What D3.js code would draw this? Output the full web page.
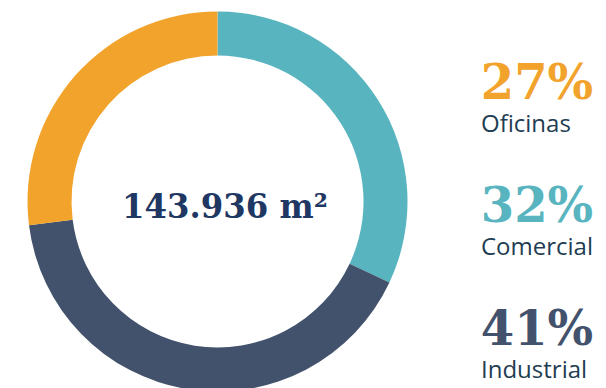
<!DOCTYPE html>
<html><head><meta charset="utf-8">
<script src="https://cdn.jsdelivr.net/npm/d3@7"></script>
<style>html,body{margin:0;padding:0;background:#fff;}svg{display:block;}</style>
</head><body>
<svg id="chart" width="606" height="388"></svg>
<script>
const categories = ["Comercial", "Industrial", "Oficinas"];
const values = [32, 41, 27];
const colors = ["#58b5bf", "#43526c", "#f2a32c"];
const totalLabel = "143.936 m²";
const legendOrder = ["Oficinas", "Comercial", "Industrial"];

const svg = d3.select("#chart");
const cx = 217.5, cy = 201.5, rOuter = 190, rInner = 146;

const pie = d3.pie().sort(null).value(d => d.v);
const arcs = pie(categories.map((c, i) => ({c, v: values[i], col: colors[i]})));
const arc = d3.arc().innerRadius(rInner).outerRadius(rOuter);

const g = svg.append("g").attr("transform", `translate(${cx},${cy})`);
g.selectAll("path").data(arcs).join("path")
  .attr("d", arc).attr("fill", d => d.data.col);

svg.append("text").attr("x", 225).attr("y", 218)
  .attr("text-anchor", "middle")
  .attr("font-family", "DejaVu Serif").attr("font-weight", "bold")
  .attr("font-size", 33).attr("fill", "#1e3763")
  .attr("textLength", 206).attr("lengthAdjust", "spacingAndGlyphs")
  .text(totalLabel);

const y = d3.scalePoint().domain(legendOrder).range([99, 345]);
const leg = svg.append("g").selectAll("g").data(legendOrder).join("g");
leg.append("text")
  .attr("x", 537 + 0).attr("y", d => y(d))
  .attr("text-anchor", "middle")
  .attr("font-family", "DejaVu Serif").attr("font-weight", "bold")
  .attr("font-size", 48)
  .attr("fill", d => colors[categories.indexOf(d)])
  .text(d => values[categories.indexOf(d)] + "%");
leg.append("text")
  .attr("x", 481).attr("y", d => y(d) + 33)
  .attr("font-family", "Open Sans").attr("font-size", 24)
  .attr("fill", "#1f3d52")
  .text(d => d);
</script>
</body></html>
